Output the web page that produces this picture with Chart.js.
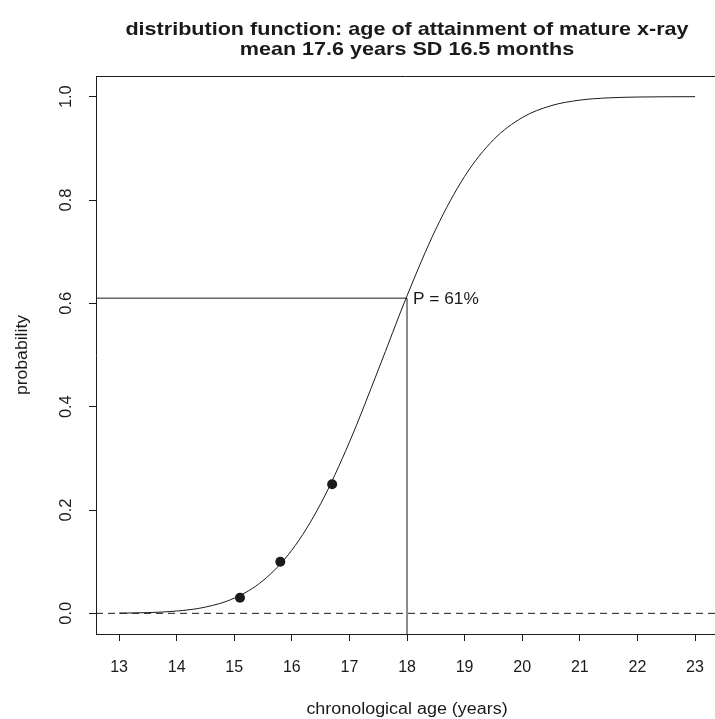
<!DOCTYPE html>
<html>
<head>
<meta charset="utf-8">
<script src="https://cdn.jsdelivr.net/npm/chart.js@4.4.1/dist/chart.umd.min.js"></script>
<style>
  html, body { margin: 0; padding: 0; background: #fff; overflow: hidden; }
  #wrap { width: 715px; height: 719px; }
</style>
</head>
<body>
<div id="wrap"><canvas id="Chart" width="715" height="719"></canvas></div>
<script>
'use strict';
// textes du graphique
const titleLines = ['distribution function: age of attainment of mature x-ray', 'mean 17.6 years SD 16.5 months'];
const xTitle = 'chronological age (years)';
const yTitle = 'probability';
const pLabel = 'P = 61%';

// courbe (âge, probabilité)
const curveAges = [13, 13.5, 14, 14.5, 15, 15.5, 16, 16.5, 17, 17.5, 18, 18.5, 19, 19.5, 20, 20.5, 21, 21.5, 22, 22.5, 23];
const curveProb = [0.0004, 0.0014, 0.0044, 0.0121, 0.0293, 0.0634, 0.1222, 0.2119, 0.3314, 0.4710, 0.6145, 0.7436, 0.8457, 0.9165, 0.9595, 0.9825, 0.9933, 0.9977, 0.9993, 0.9998, 1.0];

// points observés
const pointAges = [15.1, 15.8, 16.7];
const pointProb = [0.03, 0.10, 0.25];

// repère P = 61% à 18 ans
const markAge = 18;
const markProb = 0.61;

// axes
const xMin = 12.6, xMax = 23.347;
const yMin = -0.04, yMax = 1.04;
const xTicks = [13, 14, 15, 16, 17, 18, 19, 20, 21, 22, 23];
const yTicks = [0, 0.2, 0.4, 0.6, 0.8, 1.0];
const yTickLabels = ['0.0', '0.2', '0.4', '0.6', '0.8', '1.0'];

const ink = '#1a1a1a';
const police = '"Liberation Sans", Arial, sans-serif';

//écrire un texte avec étirement horizontal et rotation
function ecrire(ctx, txt, x, y, font, sx, rot, align, base) {
    ctx.save();
    ctx.translate(x, y);
    if (rot) ctx.rotate(rot);
    ctx.scale(sx, 1);
    ctx.font = font;
    ctx.textAlign = align;
    ctx.textBaseline = base;
    ctx.fillText(txt, 0, 0);
    ctx.restore();
}

//plugin pour les textes et le cadre
const textesPlugin = {
    id: 'textes',
    afterDraw(chart) {
        const ctx = chart.ctx;
        const area = chart.chartArea;
        const xs = chart.scales.x;
        const ys = chart.scales.y;
        ctx.save();
        //bord du haut
        ctx.strokeStyle = ink;
        ctx.lineWidth = 1;
        ctx.beginPath();
        ctx.moveTo(area.left, Math.round(area.top) + 0.5);
        ctx.lineTo(area.right, Math.round(area.top) + 0.5);
        ctx.stroke();
        ctx.fillStyle = ink;
        const cx = 407;
        //titre
        ecrire(ctx, titleLines[0], cx, 35, 'bold 19px ' + police, 1.135, 0, 'center', 'alphabetic');
        ecrire(ctx, titleLines[1], cx, 55, 'bold 19px ' + police, 1.135, 0, 'center', 'alphabetic');
        //titre axe x
        ecrire(ctx, xTitle, cx, 713.5, '16px ' + police, 1.12, 0, 'center', 'alphabetic');
        //P = 61%
        ecrire(ctx, pLabel, xs.getPixelForValue(markAge) + 6, ys.getPixelForValue(markProb) + 6, '16px ' + police, 1.08, 0, 'left', 'alphabetic');
        //labels axe y
        yTicks.forEach((v, i) => {
            ecrire(ctx, yTickLabels[i], 71, ys.getPixelForValue(v), '16px ' + police, 1.03, -Math.PI / 2, 'center', 'alphabetic');
        });
        //titre axe y
        ecrire(ctx, yTitle, 22.5, (area.top + area.bottom) / 2, '16px ' + police, 1.1, -Math.PI / 2, 'center', 'middle');
        ctx.restore();
    }
};

function creerChart() {
    const ctx = document.getElementById('Chart').getContext('2d');
    const curve = curveAges.map((a, i) => ({ x: a, y: curveProb[i] }));
    const points = pointAges.map((a, i) => ({ x: a, y: pointProb[i] }));
    new Chart(ctx, {
        type: 'scatter',
        data: {
            datasets: [
                { data: curve, showLine: true, borderColor: ink, borderWidth: 1, pointRadius: 0, cubicInterpolationMode: 'monotone' },
                { data: points, showLine: false, pointRadius: 5, backgroundColor: ink, borderColor: ink, borderWidth: 0 },
                { data: [{ x: xMin, y: markProb }, { x: markAge, y: markProb }], showLine: true, borderColor: ink, borderWidth: 1, pointRadius: 0 },
                { data: [{ x: markAge, y: yMin }, { x: markAge, y: markProb }], showLine: true, borderColor: ink, borderWidth: 1, pointRadius: 0 },
                { data: [{ x: xMin, y: 0 }, { x: xMax, y: 0 }], showLine: true, borderColor: ink, borderWidth: 1, borderDash: [7, 5], pointRadius: 0 }
            ]
        },
        options: {
            responsive: false,
            animation: false,
            layout: { autoPadding: false, padding: { top: 76, right: 0, left: 0, bottom: 0 } },
            plugins: { legend: { display: false }, title: { display: false }, tooltip: { enabled: false } },
            scales: {
                x: {
                    type: 'linear', min: xMin, max: xMax,
                    afterBuildTicks: s => { s.ticks = xTicks.map(v => ({ value: v })); },
                    afterFit: s => { s.height = 85; s.paddingLeft = 0; s.paddingRight = 0; },
                    ticks: { color: ink, font: { family: police, size: 16, lineHeight: '54px' }, padding: 0, maxRotation: 0, autoSkip: false },
                    grid: { drawOnChartArea: false, drawTicks: true, tickLength: 7, tickColor: ink, tickWidth: 1 },
                    border: { display: true, color: ink, width: 1 }
                },
                y: {
                    type: 'linear', min: yMin, max: yMax,
                    afterBuildTicks: s => { s.ticks = yTicks.map(v => ({ value: v })); },
                    afterFit: s => { s.width = 96; s.paddingTop = 0; s.paddingBottom = 0; },
                    ticks: { callback: () => '' },
                    grid: { drawOnChartArea: false, drawTicks: true, tickLength: 7, tickColor: ink, tickWidth: 1 },
                    border: { display: true, color: ink, width: 1 }
                }
            }
        },
        plugins: [textesPlugin]
    });
}

creerChart();
</script>
</body>
</html>
